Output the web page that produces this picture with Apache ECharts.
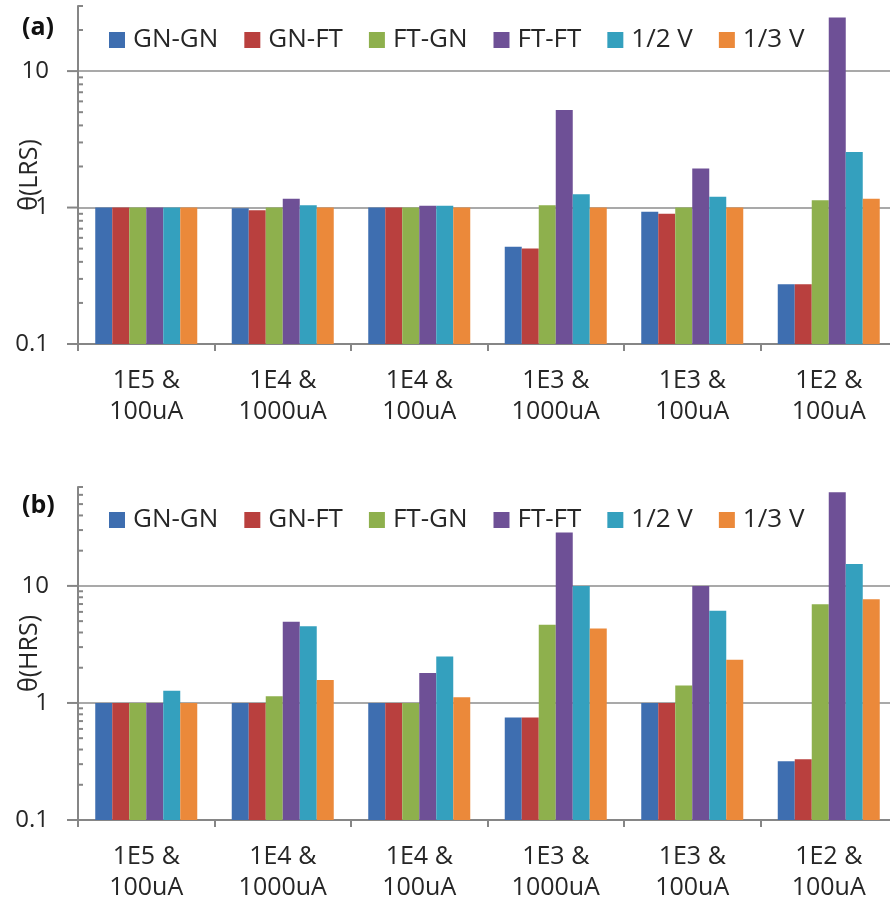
<!DOCTYPE html>
<html>
<head>
<meta charset="utf-8">
<script src="https://cdn.jsdelivr.net/npm/echarts@6/dist/echarts.min.js"></script>
<style>
html,body{margin:0;padding:0;background:#fff;}
#chart{width:890px;height:909px;}
</style>
</head>
<body>
<div id="chart"></div>
<script>
// ---- data ----
var categories = ['1E5 &\n100uA', '1E4 &\n1000uA', '1E4 &\n100uA', '1E3 &\n1000uA', '1E3 &\n100uA', '1E2 &\n100uA'];
var seriesNames = ['GN-GN', 'GN-FT', 'FT-GN', 'FT-FT', '1/2 V', '1/3 V'];

// θ(LRS)
var lrsGNGN = [1.0, 0.99, 1.0, 0.516, 0.93, 0.274];
var lrsGNFT = [1.0, 0.955, 1.0, 0.502, 0.90, 0.274];
var lrsFTGN = [1.0, 1.0, 1.0, 1.04, 1.0, 1.13];
var lrsFTFT = [1.0, 1.16, 1.03, 5.19, 1.93, 24.7];
var lrsHalfV = [1.0, 1.04, 1.03, 1.25, 1.2, 2.55];
var lrsThirdV = [1.0, 1.0, 1.0, 1.0, 1.0, 1.16];

// θ(HRS)
var hrsGNGN = [1.0, 1.0, 1.0, 0.75, 1.0, 0.318];
var hrsGNFT = [1.0, 1.0, 1.0, 0.75, 1.0, 0.33];
var hrsFTGN = [1.0, 1.14, 1.0, 4.65, 1.41, 6.98];
var hrsFTFT = [1.0, 4.95, 1.8, 28.6, 10.0, 63];
var hrsHalfV = [1.27, 4.52, 2.5, 10.0, 6.14, 15.4];
var hrsThirdV = [1.0, 1.57, 1.12, 4.32, 2.34, 7.7];

// axis ranges and tick values
var lrsMin = 0.1, lrsMax = 30;
var hrsMin = 0.1, hrsMax = 70;
var majorTicks = [0.1, 1, 10];
var lrsMinorTicks = [0.2, 0.3, 0.4, 0.5, 0.6, 0.7, 0.8, 0.9, 2, 3, 4, 5, 6, 7, 8, 9, 20, 30];
var hrsMinorTicks = [0.2, 0.3, 0.4, 0.5, 0.6, 0.7, 0.8, 0.9, 2, 3, 4, 5, 6, 7, 8, 9, 20, 30, 40, 50, 60, 70];

var lrsData = [lrsGNGN, lrsGNFT, lrsFTGN, lrsFTFT, lrsHalfV, lrsThirdV];
var hrsData = [hrsGNGN, hrsGNFT, hrsFTGN, hrsFTFT, hrsHalfV, hrsThirdV];

// ---- styling ----
var colors = ['#3E6EB0', '#B9403E', '#8EB04D', '#6E5096', '#34A0BE', '#EB893A'];
var FONT = "'Open Sans', 'Noto Sans', sans-serif";
var TXT = '#262626';
var AXIS = '#868686';
var GRID = '#8c8c8c';

function fmtLog(v) {
  var l = Math.log10(v);
  if (Math.abs(l - Math.round(l)) < 1e-6) return String(+v.toPrecision(6));
  return '';
}

function xAxisCfg(idx) {
  return {
    type: 'category', gridIndex: idx, data: categories,
    axisLine: {lineStyle: {color: AXIS, width: 2}},
    axisTick: {show: true, length: 7, lineStyle: {color: AXIS, width: 2}},
    axisLabel: {fontFamily: FONT, fontSize: 25, color: TXT, lineHeight: 31, margin: 21, interval: 0}
  };
}

function yAxisCfg(idx, mn, mx, name) {
  return {
    type: 'log', gridIndex: idx, min: mn, max: mx, logBase: 10, startValue: mn,
    name: name, nameLocation: 'middle', nameRotate: 90, nameGap: 36, nameMoveOverlap: false,
    nameTextStyle: {fontFamily: FONT, fontSize: 25, color: TXT},
    axisLine: {show: true, lineStyle: {color: AXIS, width: 2}},
    axisTick: {show: false},
    axisLabel: {fontFamily: FONT, fontSize: 24, color: TXT, margin: 29, formatter: fmtLog},
    splitLine: {show: true, showMinLine: false, showMaxLine: false, lineStyle: {color: GRID, width: 1.5}}
  };
}

function tickSeries(idx, values, outside, len) {
  return {
    type: 'custom', xAxisIndex: idx, yAxisIndex: idx, silent: true, clip: false, z: 5,
    data: values.map(function (v) { return [0, v]; }),
    renderItem: function (params, api) {
      var y = api.coord([0, api.value(1)])[1];
      var x = params.coordSys.x;
      var x1 = outside ? x - len : x;
      var x2 = outside ? x : x + len;
      return {type: 'line', shape: {x1: x1, y1: y, x2: x2, y2: y}, style: {stroke: AXIS, lineWidth: 2}};
    }
  };
}

var series = [];
function addBars(idx, data) {
  for (var i = 0; i < seriesNames.length; i++) {
    series.push({
      type: 'bar', name: seriesNames[i], xAxisIndex: idx, yAxisIndex: idx,
      data: data[i], barWidth: 17, barGap: '0%',
      itemStyle: {color: colors[i]}
    });
  }
}
addBars(0, lrsData);
addBars(1, hrsData);
series.push(tickSeries(0, majorTicks, true, 11));
series.push(tickSeries(0, lrsMinorTicks, false, 5));
series.push(tickSeries(1, majorTicks, true, 11));
series.push(tickSeries(1, hrsMinorTicks, false, 5));

function legendCfg(top) {
  return {
    data: seriesNames, left: 109, top: top, padding: 0, itemGap: 26,
    itemWidth: 16, itemHeight: 16, icon: 'rect',
    textStyle: {fontFamily: FONT, fontSize: 26, color: TXT, lineHeight: 26, padding: [0, 0, 0, 3]}
  };
}

var chart = echarts.init(document.getElementById('chart'), null, {renderer: 'canvas'});
chart.setOption({
  backgroundColor: '#ffffff',
  animation: false,
  color: colors,
  grid: [
    {left: 78, top: 6, width: 819, height: 338, containLabel: false, outerBoundsMode: 'none'},
    {left: 78, top: 487, width: 819, height: 333, containLabel: false, outerBoundsMode: 'none'}
  ],
  xAxis: [xAxisCfg(0), xAxisCfg(1)],
  yAxis: [yAxisCfg(0, lrsMin, lrsMax, 'θ(LRS)'), yAxisCfg(1, hrsMin, hrsMax, 'θ(HRS)')],
  legend: [legendCfg(27), legendCfg(507)],
  graphic: [
    {type: 'text', left: 22, top: 15, style: {text: '(a)', font: 'bold 25px ' + FONT, fill: '#111'}},
    {type: 'text', left: 22, top: 493, style: {text: '(b)', font: 'bold 25px ' + FONT, fill: '#111'}}
  ],
  series: series
});
</script>
</body>
</html>
